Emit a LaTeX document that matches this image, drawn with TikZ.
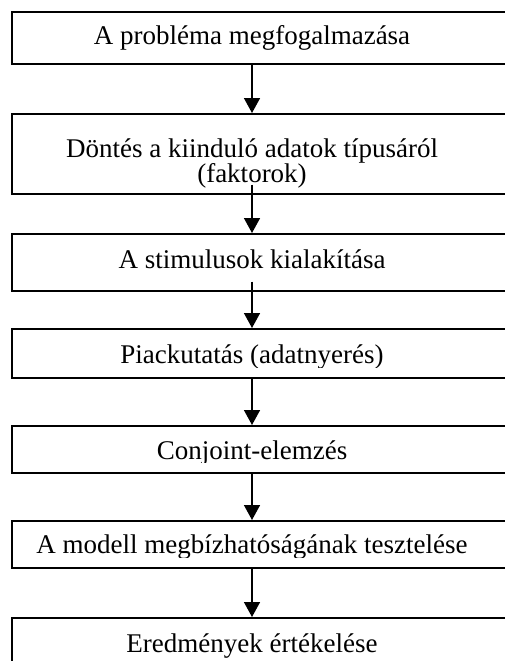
\documentclass[tikz,border=0pt]{standalone}
\usepackage{fontspec}
\setmainfont{Liberation Serif}
\usetikzlibrary{arrows.meta,calc}
\begin{document}
\begin{tikzpicture}[x=1pt,y=1pt,
  stepbox/.style={draw=black, line width=1.6pt, rectangle, inner sep=0pt,
    minimum width=510pt, anchor=north west},
  steptext/.style={anchor=base, inner sep=0pt, align=center,
    font=\fontsize{27}{25}\selectfont},
  flow/.style={line width=1.6pt, -{Triangle[width=16pt,length=15pt]}}]
\useasboundingbox (0,0) rectangle (505,-661);

% boxes of the process steps
\node[stepbox, minimum height=52pt] (b1) at (11,-11) {};
\node[stepbox, minimum height=80pt] (b2) at (11,-113) {};
\node[stepbox, minimum height=57pt] (b3) at (11,-233) {};
\node[stepbox, minimum height=49pt] (b4) at (11,-328) {};
\node[stepbox, minimum height=47pt] (b5) at (11,-425) {};
\node[stepbox, minimum height=47pt] (b6) at (11,-520) {};
\node[stepbox, minimum height=80pt] (b7) at (11,-617) {};

% step labels (a two-line label is placed by its last baseline)
\node[steptext] (t1) at (252,-45) {A probléma megfogalmazása};
\node[steptext] (t2) at (252,-182) {Döntés a kiinduló adatok típusáról\\(faktorok)};
\node[steptext] (t3) at (252,-268) {A stimulusok kialakítása};
% text frames cut off the descenders just below the baseline
\begin{scope}
  \clip (b4.north west) rectangle ($(b4.south east)+(0,11)$);
  \node[steptext] (t4) at (252,-363) {Piackutatás (adatnyerés)};
\end{scope}
\begin{scope}
  \clip (b5.north west) rectangle ($(b5.south east)+(0,11)$);
  \node[steptext] (t5) at (252,-459) {Conjoint-elemzés};
\end{scope}
\begin{scope}
  \clip (b6.north west) rectangle ($(b6.south east)+(0,11)$);
  \node[steptext] (t6) at (252,-553) {A modell megbízhatóságának tesztelése};
\end{scope}
\node[steptext] (t7) at (252,-652) {Eredmények értékelése};

% connectors
\draw[flow] (t1 |- b1.south) -- (t1 |- b2.north);
\draw[flow] ($(t2 |- b2.south)+(0,10)$) -- (t2 |- b3.north);
\draw[flow] ($(t3 |- b3.south)+(0,10)$) -- (t3 |- b4.north);
\draw[flow] (t4 |- b4.south) -- (t4 |- b5.north);
\draw[flow] (t5 |- b5.south) -- (t5 |- b6.north);
\draw[flow] (t6 |- b6.south) -- (t6 |- b7.north);
\end{tikzpicture}
\end{document}
